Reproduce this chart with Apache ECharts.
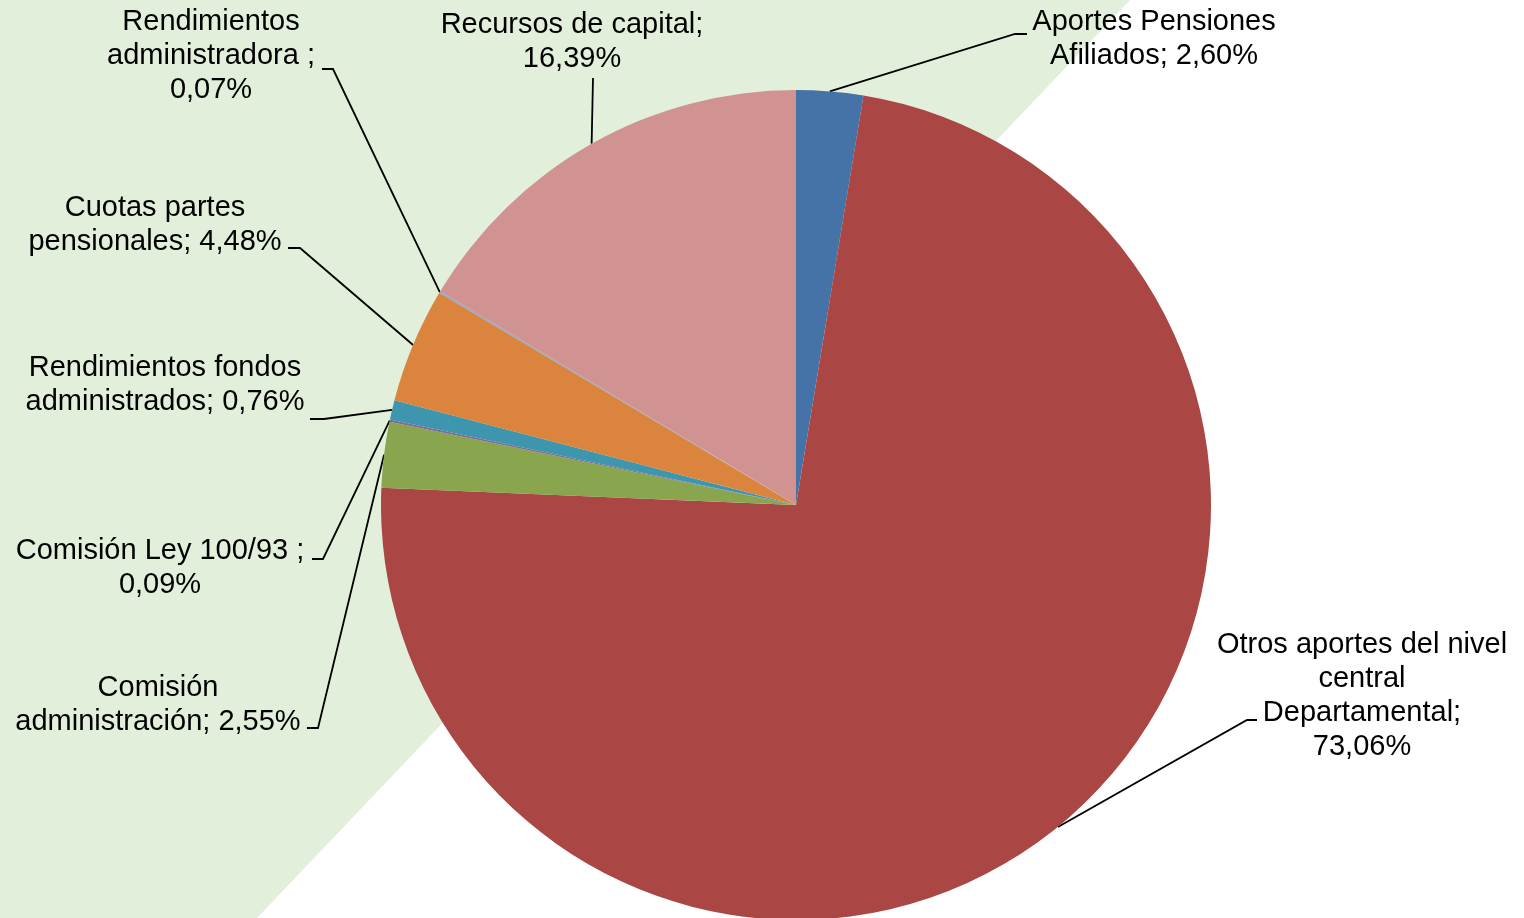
<!DOCTYPE html>
<html>
<head>
<meta charset="utf-8">
<script src="https://cdn.jsdelivr.net/npm/echarts@6/dist/echarts.min.js"></script>
<style>
  html, body { margin: 0; padding: 0; background: #ffffff; }
  #chart { width: 1524px; height: 918px; }
</style>
</head>
<body>
<div id="chart"></div>
<script>
// slices, clockwise from 12 o'clock
const names = [
  "Aportes Pensiones Afiliados",
  "Otros aportes del nivel central Departamental",
  "Comisión administración",
  "Comisión Ley 100/93 ",
  "Rendimientos fondos administrados",
  "Cuotas partes pensionales",
  "Rendimientos administradora ",
  "Recursos de capital",
];
const values = [2.60, 73.06, 2.55, 0.09, 0.76, 4.48, 0.07, 16.39];
const colors = ["#4572a7", "#aa4643", "#89a54e", "#80699b", "#3d96ae", "#db843d", "#92a8cd", "#d19292"];

// label text as wrapped in the original; {v} gets the percentage
const labelTexts = [
  "Aportes Pensiones\nAfiliados; {v}",
  "Otros aportes del nivel\ncentral\nDepartamental;\n{v}",
  "Comisión\nadministración; {v}",
  "Comisión Ley 100/93 ;\n{v}",
  "Rendimientos fondos\nadministrados; {v}",
  "Cuotas partes\npensionales; {v}",
  "Rendimientos\nadministradora ;\n{v}",
  "Recursos de capital;\n{v}",
];

// where each label sits (center x, middle y) and where its leader line bends
const labelSpots = [
  { x: 1154, y: 39, line: [[1015, 34], [1027, 34]] },
  { x: 1362, y: 696, line: [[1247, 720], [1257, 720]] },
  { x: 158, y: 705, line: [[318, 728], [307, 728]] },
  { x: 160, y: 568, line: [[323, 559], [312, 559]] },
  { x: 165, y: 385, line: [[324, 419], [310, 419]] },
  { x: 155, y: 225, line: [[300, 248], [288, 248]] },
  { x: 211, y: 56, line: [[333, 69], [322, 69]] },
  { x: 572, y: 42, line: [[593, 78]] },
];

function pct(v) {
  return v.toFixed(2).replace(".", ",") + "%";
}

const chart = echarts.init(document.getElementById("chart"));

chart.setOption({
  animation: false,
  backgroundColor: "#ffffff",
  graphic: [
    {
      type: "polygon",
      silent: true,
      z: -10,
      shape: { points: [[0, 0], [1130, 0], [257, 918], [0, 918]] },
      style: { fill: "#e2efda" },
    },
  ],
  series: [
    {
      type: "pie",
      center: [796, 505],
      radius: 415,
      startAngle: 90,
      clockwise: true,
      avoidLabelOverlap: false,
      emphasis: { disabled: true },
      data: names.map((name, i) => ({ name, value: values[i], itemStyle: { color: colors[i] } })),
      label: {
        show: true,
        position: "outside",
        color: "#000000",
        fontFamily: "Liberation Sans, Arial, sans-serif",
        fontSize: 29,
        lineHeight: 34,
        align: "center",
        overflow: "none",
        formatter: (p) => labelTexts[p.dataIndex].replace("{v}", pct(p.value)),
      },
      labelLine: {
        show: true,
        smooth: false,
        lineStyle: { color: "#000000", width: 1.8 },
      },
      labelLayout: (params) => {
        const spot = labelSpots[params.dataIndex];
        const start = params.labelLinePoints ? params.labelLinePoints[0] : null;
        const out = {
          x: spot.x,
          y: spot.y,
          align: "center",
          verticalAlign: "middle",
        };
        if (start) out.labelLinePoints = [start].concat(spot.line);
        return out;
      },
    },
  ],
});

window.addEventListener("resize", () => chart.resize());
</script>
</body>
</html>
